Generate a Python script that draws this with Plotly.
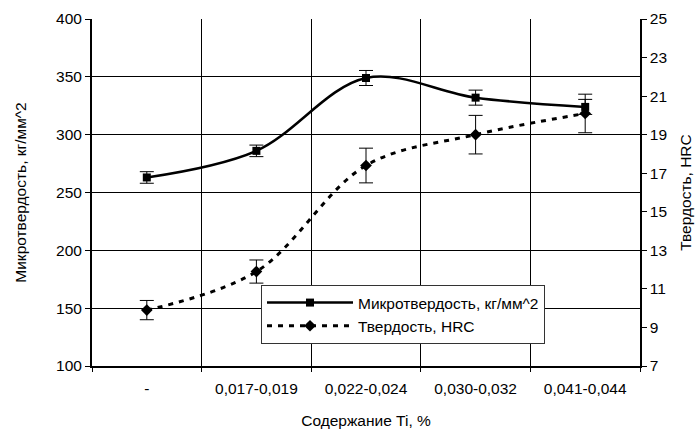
import plotly.graph_objects as go

categories = ["-", "0,017-0,019", "0,022-0,024", "0,030-0,032", "0,041-0,044"]
micro_values = [263, 286, 349, 332, 324]
micro_errors = [5, 5, 6.5, 6.5, 6.5]
hrc_values = [9.9, 11.9, 17.4, 19.0, 20.1]
hrc_errors = [0.5, 0.6, 0.9, 1.0, 1.0]

left_ticks = [100, 150, 200, 250, 300, 350, 400]
right_ticks = [7, 9, 11, 13, 15, 17, 19, 21, 23, 25]

FONT = "Liberation Sans, Arial, sans-serif"
fs = 15.5

fig = go.Figure()
fig.add_trace(go.Scatter(
    x=categories, y=micro_values, name="Микротвердость, кг/мм^2",
    mode="lines+markers", line=dict(color="black", width=2.5, shape="spline", smoothing=1),
    marker=dict(symbol="square", size=8, color="black"),
    error_y=dict(type="data", array=micro_errors, color="black", thickness=1, width=7),
    xaxis="x", yaxis="y"))
fig.add_trace(go.Scatter(
    x=categories, y=hrc_values, name="Твердость, HRC",
    mode="lines+markers", line=dict(color="black", width=3, shape="spline", smoothing=1, dash="5px,6px"),
    marker=dict(symbol="diamond", size=9, color="black"),
    error_y=dict(type="data", array=hrc_errors, color="black", thickness=1, width=7),
    xaxis="x", yaxis="y2"))

axfont = dict(family=FONT, size=fs, color="black")
fig.update_layout(
    width=698, height=432,
    margin=dict(l=92, r=58, t=19, b=66, autoexpand=False),
    paper_bgcolor="white", plot_bgcolor="white",
    font=axfont,
    xaxis=dict(type="category", categoryorder="array", categoryarray=categories,
               range=[-0.5, 4.5], automargin=False,
               tickson="boundaries", showgrid=True, gridcolor="black", gridwidth=1,
               ticks="outside", ticklen=4, tickcolor="black", tickwidth=1,
               showline=True, linecolor="black", linewidth=1.5,
               ticklabelstandoff=8, tickfont=axfont,
               title=dict(text="Содержание Ti, %", font=axfont, standoff=19)),
    xaxis2=dict(overlaying="x", range=[-0.5, 4.5], tickmode="array", automargin=False,
                tickvals=[-0.5, 0.5, 1.5, 2.5, 3.5, 4.5], ticks="inside", ticklen=4,
                tickcolor="black", showticklabels=False, showgrid=False, showline=False,
                zeroline=False, anchor="y"),
    yaxis=dict(range=[100, 400], tickmode="array", tickvals=left_ticks, automargin=False,
               showgrid=True, gridcolor="black", gridwidth=1, zeroline=False,
               ticks="outside", ticklen=5, tickcolor="black",
               showline=True, linecolor="black", linewidth=2, tickfont=axfont,
               title=dict(text="Микротвердость, кг/мм^2", font=axfont, standoff=26)),
    yaxis3=dict(overlaying="y", side="left", range=[100, 400], tickmode="array",
                tickvals=left_ticks, ticks="inside", ticklen=4, tickcolor="black",
                showticklabels=False, showgrid=False, showline=False, zeroline=False,
                anchor="x", automargin=False),
    yaxis2=dict(overlaying="y", side="right", range=[7, 25], tickmode="array",
                tickvals=right_ticks, showgrid=False, zeroline=False, automargin=False,
                ticks="outside", ticklen=5, tickcolor="black",
                showline=True, linecolor="black", linewidth=1.5, tickfont=axfont,
                anchor="x",
                title=dict(text="Твердость, HRC", font=axfont, standoff=14)),
    yaxis4=dict(overlaying="y", side="right", range=[7, 25], tickmode="array",
                tickvals=right_ticks, ticks="inside", ticklen=4, tickcolor="black",
                showticklabels=False, showgrid=False, showline=False, zeroline=False,
                anchor="x", automargin=False),
    legend=dict(x=(261 - 92) / 548, y=(366 - 285) / 347, xanchor="left", yanchor="top",
                bgcolor="white", bordercolor="#333333", borderwidth=1,
                font=axfont, itemwidth=86, tracegroupgap=0),
    showlegend=True,
)

fig.write_html("out.html")
